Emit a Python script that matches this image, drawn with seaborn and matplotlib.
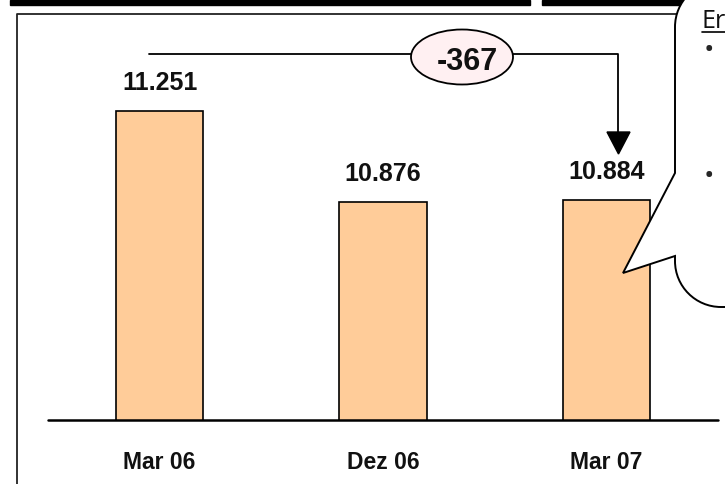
import numpy as np
import matplotlib
matplotlib.use("Agg")
import matplotlib.pyplot as plt
import seaborn as sns
from matplotlib.patches import Ellipse, Rectangle, Polygon, PathPatch
from matplotlib.path import Path

periodos = ["Mar 06", "Dez 06", "Mar 07"]
valores = [11251, 10876, 10884]
variacao = "-367"
titulo_caixa = "Er"

sns.set_style("white")
plt.rcParams["font.family"] = ["Liberation Sans", "DejaVu Sans"]

fig = plt.figure(figsize=(7.25, 4.84), dpi=100)

# grafico de barras
ax = fig.add_axes([0, 64 / 484, 1, 420 / 484])
sns.barplot(x=periodos, y=valores, order=periodos, color="#FFCC99", saturation=1,
            edgecolor="black", linewidth=1.2, width=0.39, ax=ax)
ax.set_xlim(-0.714, 2.530)
ax.set_ylim(9978, 11708)
ax.axis("off")
ax.axhline(ax.get_ylim()[0], xmin=48 / 725, xmax=718 / 725, color="black", lw=1.8,
           clip_on=False, zorder=5)

for i, v in enumerate(valores):
    ax.annotate(f"{v:,}".replace(",", "."), (i, v), xytext=(0, 15), textcoords="offset points",
                ha="center", va="baseline", fontsize=18, fontweight="bold", color="#111111")
    ax.text(i, -49 / 420, periodos[i], transform=ax.get_xaxis_transform(), ha="center",
            va="baseline", fontsize=16.5, fontweight="bold", color="#111111")

# camada de anotacoes em pixels
ov = fig.add_axes([0, 0, 1, 1], zorder=10)
ov.set_xlim(0, 725)
ov.set_ylim(484, 0)
ov.axis("off")
ov.patch.set_alpha(0)

# barras pretas do topo e moldura
ov.add_patch(Rectangle((10, 0), 520, 4.5, color="black", zorder=1))
ov.add_patch(Rectangle((542, 0), 140, 4.5, color="black", zorder=1))
ov.plot([17, 17, 690], [490, 14, 14], color="#222222", lw=1.3, zorder=1)

# seta de variacao
ov.plot([149, 618, 618], [54, 54, 134], color="black", lw=1.3, zorder=2)
ov.add_patch(Polygon([(607, 132), (630, 132), (618.5, 154)], closed=True, color="black", zorder=2))
ov.add_patch(Ellipse((462, 57), 102, 55, facecolor="#FFF0F2", edgecolor="black", lw=1.3, zorder=3))
ov.text(467, 70, variacao, ha="center", va="baseline", fontsize=22, fontweight="bold",
        color="#111111", zorder=4)

# balao de comentario
k = 0.5523
r = 46
x0, top, bot = 675, -19, 307
verts = [
    (760, top), (x0 + r, top),
    (x0 + r - k * r, top), (x0, top + r - k * r), (x0, top + r),
    (x0, 173), (623, 273), (x0, 256), (x0, bot - r),
    (x0, bot - r + k * r), (x0 + r - k * r, bot), (x0 + r, bot),
    (760, bot), (760, top),
]
codes = [Path.MOVETO, Path.LINETO,
         Path.CURVE4, Path.CURVE4, Path.CURVE4,
         Path.LINETO, Path.LINETO, Path.LINETO, Path.LINETO,
         Path.CURVE4, Path.CURVE4, Path.CURVE4,
         Path.LINETO, Path.CLOSEPOLY]
ov.add_patch(PathPatch(Path(verts, codes), facecolor="white", edgecolor="black", lw=1.4, zorder=5))

ov.text(702, 28, titulo_caixa, fontsize=18, family=["Open Sans", "DejaVu Sans"],
        va="baseline", color="#111111", zorder=6)
ov.plot([702, 725], [32, 32], color="black", lw=1.2, zorder=6)
ov.text(704, 58, "\u2022", fontsize=20, family=["Open Sans", "DejaVu Sans"], va="baseline", zorder=6)
ov.text(704, 184, "\u2022", fontsize=20, family=["Open Sans", "DejaVu Sans"], va="baseline", zorder=6)

fig.savefig("out.png", dpi=100)
